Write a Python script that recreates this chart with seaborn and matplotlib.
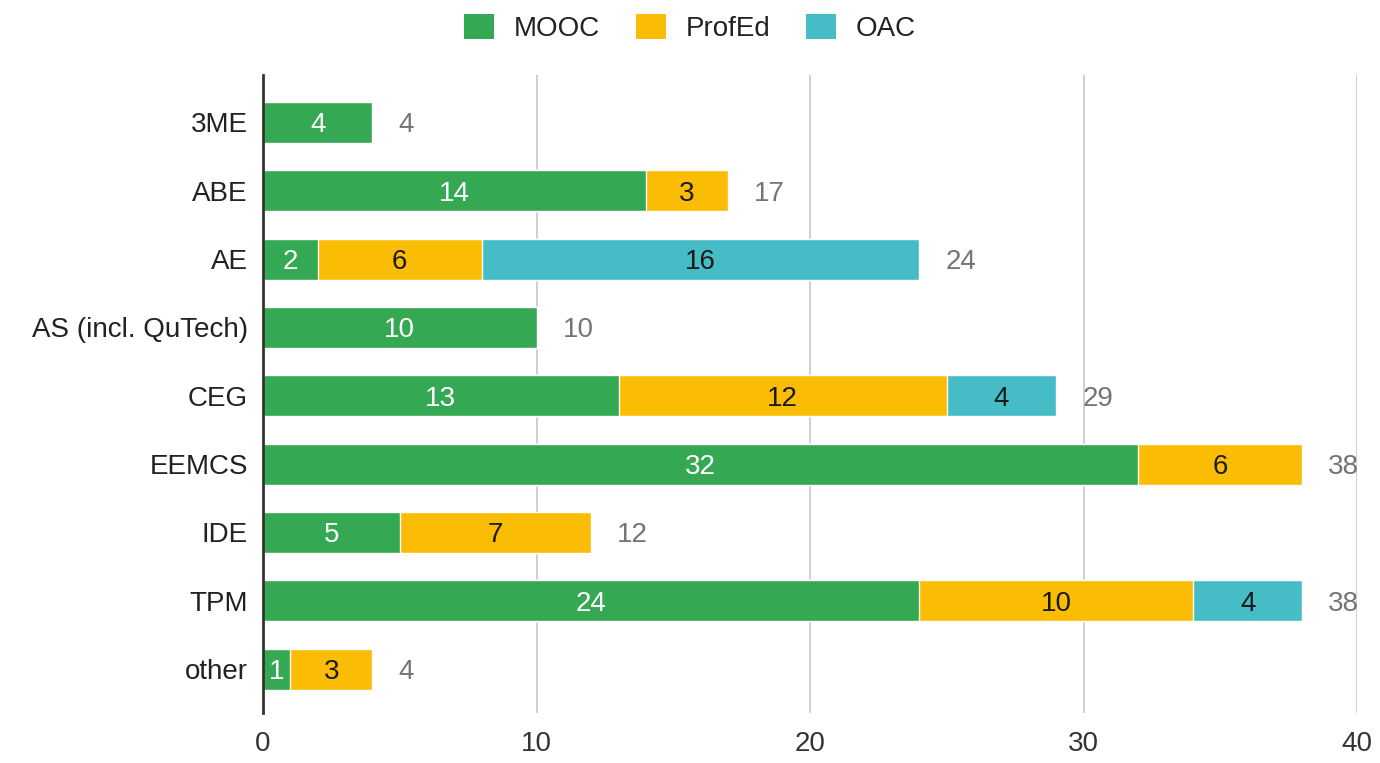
import numpy as np
import seaborn as sns
import matplotlib.pyplot as plt
from matplotlib.patches import Patch

faculties = ["3ME", "ABE", "AE", "AS (incl. QuTech)", "CEG", "EEMCS", "IDE", "TPM", "other"]
mooc = [4, 14, 2, 10, 13, 32, 5, 24, 1]
profed = [0, 3, 6, 0, 12, 6, 7, 10, 3]
oac = [0, 0, 16, 0, 4, 0, 0, 4, 0]
series_names = ["MOOC", "ProfEd", "OAC"]
colors = ["#34a853", "#fbbc04", "#46bdc6"]
label_colors = ["white", "#1a1a1a", "#1a1a1a"]
x_ticks = [0, 10, 20, 30, 40]

sns.set_theme(style="white")
plt.rcParams["font.family"] = ["Liberation Sans", "DejaVu Sans"]

fig = plt.figure(figsize=(13.8, 7.63), dpi=100)
ax = fig.add_axes([0.1906, 0.0655, 0.7928, 0.8362])

values = np.array([mooc, profed, oac])
cum = values.cumsum(axis=0)

# stacked bars: draw the longest first and paint shorter stacks over it
for i in range(2, -1, -1):
    sns.barplot(x=cum[i], y=faculties, orient="h", color=colors[i],
                width=0.6, saturation=1, ax=ax, zorder=3)

# segment labels
for i in range(3):
    for j, cat in enumerate(faculties):
        v = values[i][j]
        if v == 0:
            continue
        start = cum[i][j] - v
        ax.text(start + v / 2, j, str(v), ha="center", va="center_baseline",
                fontsize=20, color=label_colors[i], zorder=4)

# totals
totals = cum[-1]
for j, t in enumerate(totals):
    ax.text(t + 0.95, j, str(t), ha="left", va="center_baseline",
            fontsize=20, color="#757575")

ax.set_xlim(0, 40)
ax.set_ylim(8.644, -0.695)
ax.set_xticks(x_ticks)
ax.set_xticklabels([str(t) for t in x_ticks], fontsize=20, color="#333333")
ax.tick_params(axis="x", length=0, pad=13)
ax.tick_params(axis="y", length=0, pad=11, labelsize=20, labelcolor="#222222")
ax.set_xlabel("")
ax.set_ylabel("")
ax.grid(axis="x", color="#cccccc", linewidth=1.3, zorder=0)
for s in ["top", "right", "bottom"]:
    ax.spines[s].set_visible(False)
ax.spines["left"].set_color("#333333")
ax.spines["left"].set_linewidth(2)
ax.spines["left"].set_zorder(5)

handles = [Patch(facecolor=c, edgecolor="none") for c in colors]
fig.legend(handles, series_names, loc="center", bbox_to_anchor=(0.5, 0.963),
           ncol=3, frameon=False, fontsize=20, handlelength=1.07,
           handleheight=1.0, handletextpad=0.71, columnspacing=1.3,
           labelcolor="#222222")

fig.savefig("out.png", dpi=100)
